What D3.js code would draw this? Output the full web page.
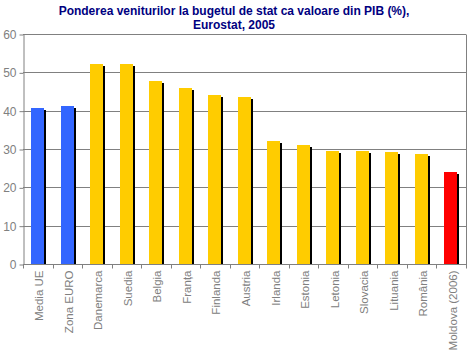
<!DOCTYPE html>
<html>
<head>
<meta charset="utf-8">
<script src="https://cdn.jsdelivr.net/npm/d3@7"></script>
<style>
  html, body { margin: 0; padding: 0; background: #fff; }
  svg { display: block; }
</style>
</head>
<body>
<svg id="chart" width="470" height="350"></svg>
<script>
// Budget revenue as share of GDP (%), Eurostat 2005
const categories = ["Media UE", "Zona EURO", "Danemarca", "Suedia", "Belgia", "Franța",
  "Finlanda", "Austria", "Irlanda", "Estonia", "Letonia", "Slovacia", "Lituania",
  "România", "Moldova (2006)"];
const values = [40.7, 41.2, 52.2, 52.2, 47.7, 45.9, 44.1, 43.6, 32.1, 31.0, 29.5, 29.5, 29.2, 28.7, 24.0];
const groups = ["avg", "avg", "eu", "eu", "eu", "eu", "eu", "eu", "eu", "eu", "eu", "eu", "eu", "eu", "md"];
const yTicks = [0, 10, 20, 30, 40, 50, 60];
const titleLines = ["Ponderea veniturilor la bugetul de stat ca valoare din PIB (%),", "Eurostat, 2005"];

const colors = { avg: "#3366FF", eu: "#FFCC00", md: "#FF0000" };
const grey = "#808080";

const svg = d3.select("#chart");
const m = { left: 23, right: 4, top: 34, bottom: 86 };
const W = 470, H = 350;

const x = d3.scaleBand().domain(categories).range([m.left, W - m.right]).paddingInner(0).paddingOuter(0);
const y = d3.scaleLinear().domain([0, 60]).range([H - m.bottom, m.top]);

// title
const title = svg.append("text")
  .attr("x", 234).attr("y", 15)
  .attr("text-anchor", "middle")
  .attr("font-family", "'Liberation Sans', Arial, sans-serif")
  .attr("font-weight", "bold")
  .attr("font-size", 12)
  .attr("fill", "#000080");
title.selectAll("tspan").data(titleLines).enter().append("tspan")
  .attr("x", 234).attr("dy", (d, i) => i === 0 ? 0 : 14)
  .text(d => d);

// gridlines
svg.append("g").selectAll("line").data(yTicks.filter(t => t > 0)).enter().append("line")
  .attr("x1", m.left).attr("x2", W - m.right)
  .attr("y1", d => Math.round(y(d)) + 0.5).attr("y2", d => Math.round(y(d)) + 0.5)
  .attr("stroke", grey).attr("stroke-width", 1);

// right border
svg.append("line")
  .attr("x1", W - m.right + 0.5).attr("x2", W - m.right + 0.5)
  .attr("y1", Math.round(y(60)) + 0.5).attr("y2", Math.round(y(0)) + 0.5)
  .attr("stroke", grey);

// bars with shadow
const bw = 13, off = 8;
const bars = svg.append("g").selectAll("g").data(categories).enter().append("g");
bars.append("rect")
  .attr("x", d => Math.round(x(d)) + off + 2)
  .attr("y", (d, i) => Math.round(y(values[i])) + 2)
  .attr("width", bw)
  .attr("height", (d, i) => Math.round(y(0)) - Math.round(y(values[i])) - 2)
  .attr("fill", "#000");
bars.append("rect")
  .attr("x", d => Math.round(x(d)) + off)
  .attr("y", (d, i) => Math.round(y(values[i])))
  .attr("width", bw)
  .attr("height", (d, i) => Math.round(y(0)) - Math.round(y(values[i])))
  .attr("fill", (d, i) => colors[groups[i]]);

// y axis
const yAxis = svg.append("g")
  .attr("transform", `translate(${m.left + 0.5},0.5)`)
  .call(d3.axisLeft(y).tickValues(yTicks).tickSize(4).tickPadding(3).tickSizeOuter(0));
yAxis.select(".domain").attr("stroke", grey);
yAxis.selectAll(".tick line").attr("stroke", grey);
yAxis.selectAll(".tick text")
  .attr("fill", grey)
  .attr("font-family", "'Liberation Sans', Arial, sans-serif")
  .attr("font-size", 12);

// x axis with ticks at category boundaries
const xg = svg.append("g").attr("transform", `translate(0,${Math.round(y(0)) + 0.5})`);
xg.append("line").attr("x1", m.left).attr("x2", W - m.right + 1).attr("stroke", grey);
const bounds = categories.map(c => x(c)).concat([x(categories[categories.length - 1]) + x.bandwidth()]);
xg.selectAll("line.tk").data(bounds).enter().append("line")
  .attr("class", "tk")
  .attr("x1", d => Math.round(d) + 0.5).attr("x2", d => Math.round(d) + 0.5)
  .attr("y1", 0).attr("y2", 4)
  .attr("stroke", grey);
xg.selectAll("text").data(categories).enter().append("text")
  .attr("transform", d => `translate(${x(d) + x.bandwidth() / 2 + 5.5},6) rotate(-90)`)
  .attr("text-anchor", "end")
  .attr("fill", grey)
  .attr("font-family", "'Liberation Sans', Arial, sans-serif")
  .attr("font-size", 11.5)
  .text(d => d);
</script>
</body>
</html>
